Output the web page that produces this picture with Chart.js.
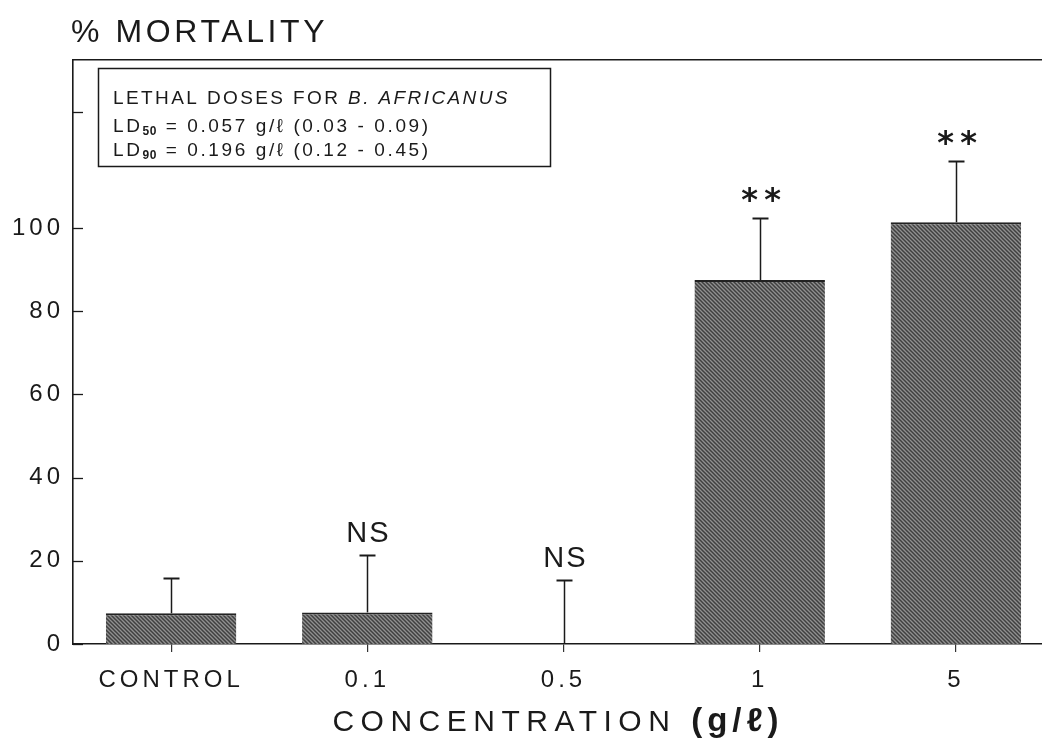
<!DOCTYPE html>
<html>
<head>
<meta charset="utf-8">
<script src="https://cdn.jsdelivr.net/npm/chart.js@4/dist/chart.umd.min.js"></script>
<style>
    html, body { margin: 0; padding: 0; background: #fff; overflow: hidden; }
    /* plot runs a little past the right edge of the page, as in the scan */
    #wrap { width: 1054px; height: 746px; position: relative; }
</style>
</head>
<body>
<div id="wrap"><canvas id="chart"></canvas></div>
<script>
// Values
const categories = ['CONTROL', '0.1', '0.5', '1', '5'];
const mortality = [7.4, 7.6, 0, 87.5, 101.4];
const errorTop = [15.9, 21.4, 15.4, 102.3, 116.2];
const significance = ['', 'NS', 'NS', '**', '**'];
const yTickValues = [0, 20, 40, 60, 80, 100, 128];
const yTickLabels = ['0', '20', '40', '60', '80', '100', ''];
const insetHeading = 'LETHAL DOSES FOR ';
const insetSpecies = 'B. AFRICANUS';
const ldSubs = ['50', '90'];
const ldTexts = [' = 0.057 g/ℓ (0.03 - 0.09)', ' = 0.196 g/ℓ (0.12 - 0.45)'];

const FONT = '"Liberation Sans", Arial, Helvetica, sans-serif';
const INK = '#1a1a1a';

const canvas = document.getElementById('chart');

// Diagonal hatch like the printed bars
function makeHatch(ctx) {
    const c = document.createElement('canvas');
    c.width = 4;
    c.height = 4;
    const g = c.getContext('2d');
    g.fillStyle = '#909090';
    g.fillRect(0, 0, 4, 4);
    g.strokeStyle = '#404040';
    g.lineWidth = 1.5;
    g.beginPath();
    g.moveTo(-1, -1); g.lineTo(5, 5);
    g.moveTo(-1, 3); g.lineTo(1, 5);
    g.moveTo(3, -1); g.lineTo(5, 1);
    g.stroke();
    return ctx.createPattern(c, 'repeat');
}

// Draws text with a letter spacing, returns end x
function spaced(ctx, text, x, y, font, spacing) {
    ctx.font = font;
    ctx.letterSpacing = spacing + 'px';
    ctx.fillText(text, x, y);
    return x + ctx.measureText(text).width;
}

const decorations = {
    id: 'decorations',
    beforeDraw(chart) {
        chart.ctx.letterSpacing = '4px';
    },
    afterDraw(chart) {
        const { ctx, chartArea } = chart;
        const x = chart.scales.x;
        const y = chart.scales.y;
        ctx.save();
        ctx.fillStyle = INK;
        ctx.strokeStyle = INK;

        // inward tick marks on the y axis
        ctx.lineWidth = 1.3;
        yTickValues.forEach(v => {
            const py = Math.round(y.getPixelForValue(v)) + 0.5;
            ctx.beginPath();
            ctx.moveTo(chartArea.left, py);
            ctx.lineTo(chartArea.left + 10, py);
            ctx.stroke();
        });

        // upper error whiskers
        categories.forEach((c, i) => {
            const px = Math.round(x.getPixelForValue(i)) + 0.5;
            const y0 = y.getPixelForValue(mortality[i]);
            const y1 = Math.round(y.getPixelForValue(errorTop[i])) + 0.5;
            ctx.lineWidth = 1.5;
            ctx.beginPath();
            ctx.moveTo(px, y0);
            ctx.lineTo(px, y1);
            ctx.stroke();
            ctx.lineWidth = 2;
            ctx.beginPath();
            ctx.moveTo(px - 8, y1);
            ctx.lineTo(px + 8, y1);
            ctx.stroke();

            // significance marks above the whisker
            const label = significance[i];
            if (!label) return;
            const cy = y1 - 24;
            ctx.textAlign = 'center';
            ctx.textBaseline = 'alphabetic';
            if (label === 'NS') {
                ctx.font = '29px ' + FONT;
                ctx.letterSpacing = '2px';
                const m = ctx.measureText(label);
                const by = cy + (m.actualBoundingBoxAscent - m.actualBoundingBoxDescent) / 2;
                ctx.fillText(label, px + 1, by);
            } else {
                ctx.font = 'bold 32px "DejaVu Sans", sans-serif';
                ctx.letterSpacing = '0px';
                const m = ctx.measureText('*');
                const by = cy + (m.actualBoundingBoxAscent - m.actualBoundingBoxDescent) / 2;
                ctx.fillText('*', px - 11, by);
                ctx.fillText('*', px + 12, by);
            }
        });

        // title over the y axis
        ctx.textAlign = 'left';
        ctx.textBaseline = 'alphabetic';
        spaced(ctx, '% MORTALITY', 71, 42, '32px ' + FONT, 3.6);

        // x axis title with bold unit
        const partA = 'CONCENTRATION ';
        const partB = '(g/ℓ)';
        ctx.font = '30px ' + FONT;
        ctx.letterSpacing = '6.5px';
        const wA = ctx.measureText(partA).width;
        ctx.font = 'bold 33px ' + FONT;
        ctx.letterSpacing = '5px';
        const wB = ctx.measureText(partB).width;
        const startX = 558 - (wA + wB) / 2;
        const endA = spaced(ctx, partA, startX, 731, '30px ' + FONT, 6.5);
        spaced(ctx, partB, endA, 731, 'bold 33px ' + FONT, 5);

        // inset box with lethal doses
        ctx.lineWidth = 1.5;
        ctx.strokeRect(98.5, 68.5, 452, 98);
        const cx = spaced(ctx, insetHeading, 113, 104, '19px ' + FONT, 2.4);
        spaced(ctx, insetSpecies, cx, 104, 'italic 19px ' + FONT, 2.4);
        ldSubs.forEach((sub, i) => {
            const by = 132 + i * 24;
            let px = spaced(ctx, 'LD', 113, by, '19px ' + FONT, 2.6);
            px = spaced(ctx, sub, px, by + 3, 'bold 12px ' + FONT, 0.5);
            spaced(ctx, ldTexts[i], px + 1, by, '19px ' + FONT, 2.6);
        });

        ctx.restore();
    }
};

const chart = new Chart(canvas, {
    type: 'bar',
    data: {
        labels: categories,
        datasets: [{
            label: '% mortality',
            data: mortality,
            backgroundColor: makeHatch(canvas.getContext('2d')),
            borderColor: '#222',
            borderWidth: { top: 2, left: 0, right: 0, bottom: 0 },
            borderSkipped: 'start',
            barPercentage: 0.665,
            categoryPercentage: 1
        }]
    },
    options: {
        responsive: true,
        maintainAspectRatio: false,
        animation: false,
        devicePixelRatio: 1,
        layout: { padding: { top: 60, left: 0, right: 0, bottom: 0 } },
        plugins: {
            legend: { display: false },
            tooltip: { enabled: false },
            title: { display: false }
        },
        scales: {
            x: {
                type: 'category',
                offset: true,
                grid: {
                    display: true,
                    drawOnChartArea: false,
                    drawTicks: true,
                    tickLength: 8,
                    offset: false,
                    color: '#333',
                    lineWidth: 1.2
                },
                border: { display: true, color: INK, width: 1.6 },
                ticks: {
                    color: INK,
                    font: { family: FONT, size: 24 },
                    padding: 14,
                    maxRotation: 0
                },
                afterFit(scale) { scale.height = 102; }
            },
            top: {
                type: 'linear',
                position: 'top',
                min: 0,
                max: 1,
                grid: { display: false },
                ticks: { display: false },
                border: { display: true, color: INK, width: 1.6 },
                afterFit(scale) { scale.height = 0; }
            },
            y: {
                min: 0,
                max: 140.4,
                afterBuildTicks(scale) {
                    scale.ticks = yTickValues.map(v => ({ value: v }));
                },
                grid: { display: false, drawTicks: false },
                border: { display: true, color: INK, width: 1.6 },
                ticks: {
                    color: INK,
                    font: { family: FONT, size: 24 },
                    padding: 9,
                    callback: (v, i) => yTickLabels[i]
                },
                afterFit(scale) { scale.width = 73; }
            }
        }
    },
    plugins: [decorations]
});
</script>
</body>
</html>
